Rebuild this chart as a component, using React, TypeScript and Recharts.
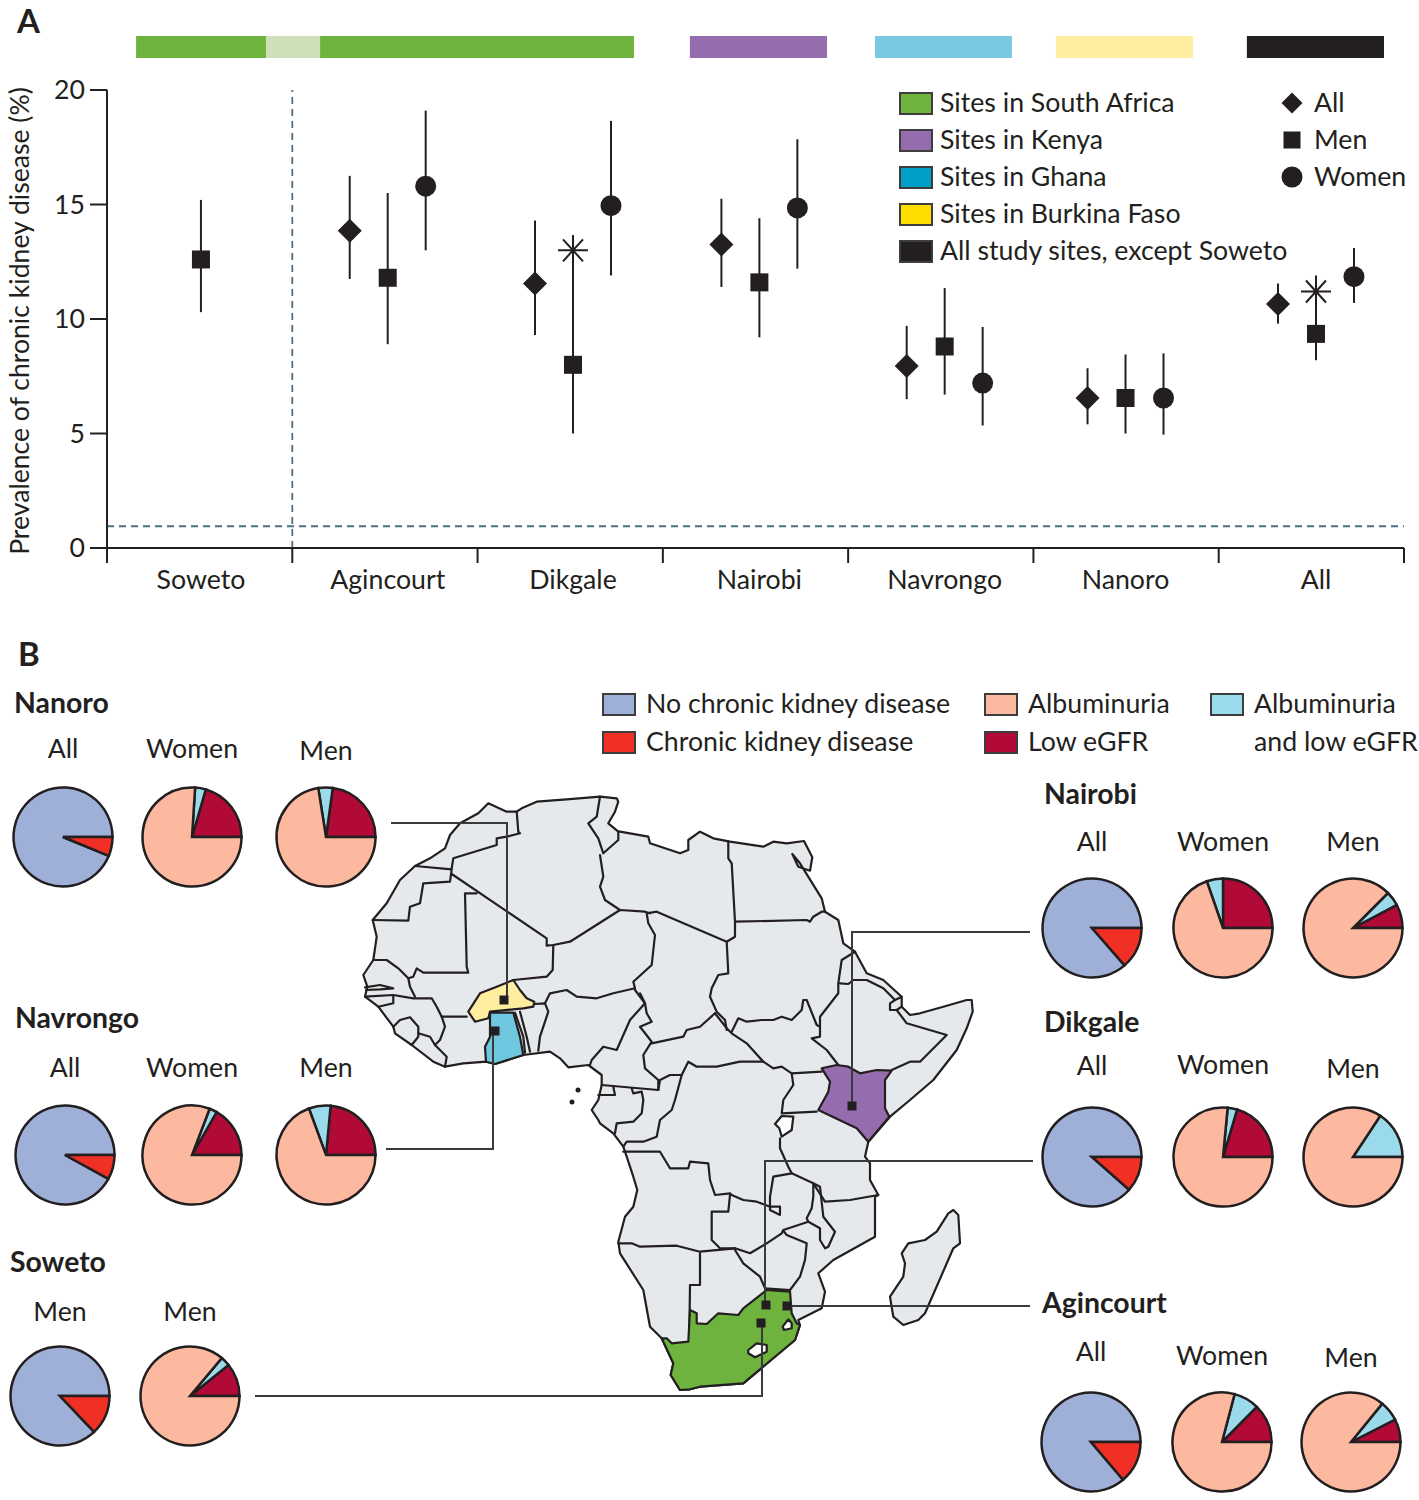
import { ScatterChart, Scatter, XAxis, YAxis, ErrorBar, ReferenceLine, ReferenceArea, PieChart, Pie, Cell, Label } from "recharts";

const INK = "#231f20";
const FONT = "Lato, sans-serif";

// Panel A values, one entry per site
const siteNames = ["Soweto", "Agincourt", "Dikgale", "Nairobi", "Navrongo", "Nanoro", "All"];
const allValues = [null, 13.85, 11.55, 13.25, 7.95, 6.55, 10.65];
const allLow = [null, 11.75, 9.3, 11.4, 6.5, 5.4, 9.8];
const allHigh = [null, 16.25, 14.3, 15.25, 9.7, 7.85, 11.55];
const menValues = [12.6, 11.8, 8.0, 11.6, 8.8, 6.55, 9.35];
const menLow = [10.3, 8.9, 5.0, 9.2, 6.7, 5.0, 8.2];
const menHigh = [15.2, 15.5, 13.65, 14.4, 11.35, 8.45, 11.9];
const womenValues = [null, 15.8, 14.95, 14.85, 7.2, 6.55, 11.85];
const womenLow = [null, 13.0, 11.9, 12.2, 5.35, 4.95, 10.7];
const womenHigh = [null, 19.1, 18.65, 17.85, 9.65, 8.5, 13.1];
const starValues = [null, null, 13.0, null, null, null, 11.2];

// Pie values (%)
const ckdLabels = ["No chronic kidney disease", "Chronic kidney disease"];
const stageLabels = ["Low eGFR", "Albuminuria and low eGFR", "Albuminuria"];
const nanoroAll = [93.8, 6.2];
const nanoroWomen = [20.5, 3.5, 76];
const nanoroMen = [22.8, 4.7, 72.5];
const navrongoAll = [92, 8];
const navrongoWomen = [16.7, 2.5, 80.8];
const navrongoMen = [23.5, 7.1, 69.4];
const sowetoAll = [87.1, 12.9];
const sowetoMen = [10.8, 3.1, 86.1];
const nairobiAll = [86.4, 13.6];
const nairobiWomen = [25, 5.3, 69.7];
const nairobiMen = [7.7, 4.8, 87.5];
const dikgaleAll = [88.5, 11.5];
const dikgaleWomen = [20.4, 3.1, 76.5];
const dikgaleMen = [0, 15.7, 84.3];
const agincourtAll = [86.2, 13.8];
const agincourtWomen = [12.6, 8.3, 79.1];
const agincourtMen = [7.5, 6.6, 85.9];

// where inside its site band each marker sits (x axis runs 0..7)
const OFFSET = { all: 0.31, men: 0.515, women: 0.72 };
const siteShift = [-0.008, 0, 0, 0.006, 0.006, -0.018, 0.01];

const toPoints = (vals: (number | null)[], off: number, low?: (number | null)[], high?: (number | null)[]) =>
  vals.flatMap((v, i) =>
    v === null ? [] : [{ x: i + off + siteShift[i], y: v, err: low && high ? [v - (low[i] as number), (high[i] as number) - v] : [0, 0] }]
  );

const allPoints = toPoints(allValues, OFFSET.all, allLow, allHigh);
const menPoints = toPoints(menValues, OFFSET.men, menLow, menHigh);
const womenPoints = toPoints(womenValues, OFFSET.women, womenLow, womenHigh);
const starPoints = toPoints(starValues, OFFSET.men);

const Diamond = ({ cx, cy, r = 12 }: any) => <path d={`M${cx - r} ${cy}L${cx} ${cy - r}L${cx + r} ${cy}L${cx} ${cy + r}Z`} fill={INK} />;
const Square = ({ cx, cy, r = 9 }: any) => <rect x={cx - r} y={cy - r} width={r * 2} height={r * 2} fill={INK} />;
const Circle = ({ cx, cy, r = 10.5 }: any) => <circle cx={cx} cy={cy} r={r} fill={INK} />;
const Star = ({ cx, cy }: any) => (
  <path d={`M${cx - 15} ${cy}H${cx + 15}M${cx} ${cy - 15}V${cy + 15}M${cx - 10} ${cy - 11}L${cx + 10} ${cy + 11}M${cx + 10} ${cy - 11}L${cx - 10} ${cy + 11}`} stroke={INK} strokeWidth={2} fill="none" />
);

// band edges get a tick mark, the band's label sits on the men's marker
const bandTicks = [0, 1, 2, 3, 4, 5, 6, 7];
const labelTicks = siteNames.map((_, i) => i + OFFSET.men + siteShift[i]);

const SiteTick = ({ x, y, payload }: any) =>
  Number.isInteger(payload.value) ? (
    <line x1={x} x2={x} y1={y} y2={y + 15} stroke={INK} strokeWidth={2} />
  ) : (
    <text x={x} y={y + 41} textAnchor="middle" fontFamily={FONT} fontSize={26.7} fill={INK}>
      {siteNames[Math.floor(payload.value)]}
    </text>
  );

const YTitle = ({ viewBox }: any) => (
  <text transform={`translate(29 ${viewBox.y + viewBox.height / 2 + 2}) rotate(-90)`} textAnchor="middle" fontFamily={FONT} fontSize={26.6} fill={INK}>
    Prevalence of chronic kidney disease (%)
  </text>
);

// colour strips over the plot, in x axis units
const strips = [
  { x1: 0.157, x2: 0.858, fill: "#6fb33f" },
  { x1: 0.858, x2: 1.15, fill: "#cde0b8" },
  { x1: 1.15, x2: 2.844, fill: "#6fb33f" },
  { x1: 3.146, x2: 3.886, fill: "#956cae" },
  { x1: 4.145, x2: 4.884, fill: "#79cae0" },
  { x1: 5.121, x2: 5.861, fill: "#ffee9f" },
  { x1: 6.152, x2: 6.892, fill: INK },
];

function PrevalencePlot() {
  return (
    <div style={{ position: "absolute", left: 0, top: 0 }}>
      <ScatterChart width={1419} height={600} margin={{ top: 90, right: 15, left: 0, bottom: 0 }}>
        <XAxis type="number" dataKey="x" domain={[0, 7]} ticks={[...bandTicks, ...labelTicks].sort((a, b) => a - b)} tick={<SiteTick />} tickLine={false} tickSize={0} tickMargin={0} height={52} interval={0} stroke={INK} strokeWidth={2} />
        <YAxis type="number" dataKey="y" domain={[0, 20]} ticks={[0, 5, 10, 15, 20]} width={107} tickSize={17} tickMargin={5} stroke={INK} strokeWidth={2} tick={{ fontFamily: FONT, fontSize: 26.7, fill: INK }} interval={0}>
          <Label content={<YTitle />} />
        </YAxis>
        {strips.map((s) => (
          <ReferenceArea key={s.x1} x1={s.x1} x2={s.x2} y1={21.4} y2={22.36} fill={s.fill} fillOpacity={1} stroke="none" ifOverflow="visible" />
        ))}
        <ReferenceLine x={1} stroke="#4c7080" strokeWidth={1.8} strokeDasharray="7 5" />
        <ReferenceLine y={0.95} stroke="#4c7080" strokeWidth={1.8} strokeDasharray="7 5" />
        <Scatter name="All" data={allPoints} shape={<Diamond />} isAnimationActive={false}>
          <ErrorBar dataKey="err" direction="y" width={0} stroke={INK} strokeWidth={2} isAnimationActive={false} />
        </Scatter>
        <Scatter name="Men" data={menPoints} shape={<Square />} isAnimationActive={false}>
          <ErrorBar dataKey="err" direction="y" width={0} stroke={INK} strokeWidth={2} isAnimationActive={false} />
        </Scatter>
        <Scatter name="Women" data={womenPoints} shape={<Circle />} isAnimationActive={false}>
          <ErrorBar dataKey="err" direction="y" width={0} stroke={INK} strokeWidth={2} isAnimationActive={false} />
        </Scatter>
        <Scatter name="Significant" data={starPoints} shape={<Star />} isAnimationActive={false} />
      </ScatterChart>
    </div>
  );
}

const T = ({ x, y, children, center, bold, size }: any) => (
  <div
    style={{
      position: "absolute", left: x, top: y - 1, transform: `translate(${center ? "-50%" : "0"}, -50%)`,
      fontFamily: FONT, fontSize: size ?? (bold ? 28.4 : 26.7), fontWeight: bold ? 700 : 400, color: INK, whiteSpace: "nowrap", lineHeight: 1.2,
    }}
  >
    {children}
  </div>
);

const Swatch = ({ x, y, fill, w = 34, h = 23 }: any) => (
  <div style={{ position: "absolute", left: x, top: y - h / 2, width: w, height: h, boxSizing: "border-box", background: fill, border: `2px solid #3d3d3d` }} />
);

const legendSites = [
  { label: "Sites in South Africa", fill: "#6fb33f", y: 103 },
  { label: "Sites in Kenya", fill: "#956cae", y: 140 },
  { label: "Sites in Ghana", fill: "#00a0c6", y: 177 },
  { label: "Sites in Burkina Faso", fill: "#ffdd00", y: 214 },
  { label: "All study sites, except Soweto", fill: INK, y: 251 },
];

// ---- map, traced in three frames, all page px after conversion ----
const frame = (ox: number, oy: number) => (s: string) =>
  s.trim().split(/\s+/).map((p) => {
    const [a, b] = p.split(",").map(Number);
    return `${(ox + a / 3).toFixed(1)} ${(oy + b / 3).toFixed(1)}`;
  });
const W = frame(350, 780);
const E = frame(600, 780);
const S = frame(600, 1100);
const closed = (...parts: string[][]) => "M" + parts.flat().join("L") + "Z";
const open = (...parts: string[][]) => "M" + parts.flat().join("L");

const outline = closed(
  W("805,155 775,130 795,95 805,65 800,55 750,50 650,58 560,65 515,85 500,95 470,95 415,70 385,100 330,130 300,165 285,205 240,235 195,258 150,300 110,370 68,420 80,470 70,540 40,585 52,620 45,650 85,680 130,740 135,760 185,795 250,845 285,860 340,850 410,845 435,852 520,825 600,815 630,835 655,862 715,855 755,885 755,915 745,960 725,990 745,1020"),
  S("0,70 40,100 70,140 80,170 100,230 112,270 100,320 75,350 55,425 60,460 130,570 150,680 185,715 220,790 212,825 240,870 270,868 300,860 430,850 585,720 600,675 595,660 665,625 675,575 655,520 700,480 825,410 825,290 835,285 810,240 810,190 795,170 805,125 870,50 930,0"),
  E("1000,900 1070,810 1100,745 1118,695 1115,660 1100,660 1030,680 960,700 930,705 905,680 905,650 850,600 800,580 765,515 730,490 715,420 675,395 665,355 600,250 577,222 595,260 630,272 637,232 612,183 560,190 520,185 490,200 390,185 340,175 300,155 265,180 265,210 240,220 150,190 145,170 60,155")
);
const madagascar = closed(S("905,460 925,430 975,420 1010,395 1045,340 1060,330 1075,345 1080,430 1060,445 975,640 955,660 910,675 880,650 870,590 910,530 915,490"));
const burkina = closed(W("355,695 390,640 440,620 490,600 510,630 530,655 553,665 550,680 520,685 420,695 415,715 375,725"));
const ghana = closed(W("420,698 490,698 510,770 520,825 435,852 408,845 405,800 420,770"));
const kenya = closed(E("665,865 690,905 685,935 655,990 770,1045 805,1085 868,1010 855,985 855,900 875,872 830,870 780,880 745,860 710,855"));
const southAfrica = closed(S("185,715 200,715 215,730 265,725 270,630 290,640 290,670 320,672 355,640 415,645 430,625 500,570 570,575 575,640 590,670 600,675 585,720 430,850 300,860 270,868 240,870 212,825 220,790"));
const lesotho = closed(S("445,750 470,730 500,735 500,755 465,772 445,760"));
const swaziland = closed(S("548,680 565,658 575,670 575,685 552,690"));
const victoria = closed(S("525,72 545,48 580,50 575,90 545,110 538,85"));

const borders = [
  // north-west
  open(W("500,95 505,155 510,160 470,170 440,175 440,195 310,235 305,265")),
  open(W("195,258 305,268 300,305 220,310 210,370 180,380 175,422 68,420")),
  open(W("305,282 590,475 590,497 610,495 660,485 810,390 885,395 900,400")),
  open(W("380,340 345,340 350,560 355,578 220,578 200,565 190,590 175,595")),
  open(W("70,540 110,540 145,565 175,595 180,620 195,650")),
  open(W("45,650 130,645 190,655 245,655 260,680 275,710 350,710")),
  open(W("45,622 90,615 130,625 90,628 48,630")),
  open(W("85,680 130,670 130,650")),
  open(W("275,710 285,740 270,780 255,795 290,830 285,860")),
  open(W("130,740 150,720 180,712 205,740 205,770 185,795")),
  open(W("205,760 240,770 255,795")),
  open(W("495,698 520,770 525,818")),
  open(W("510,695 530,770 540,815")),
  open(W("553,672 585,670 595,695 570,770 565,812")),
  open(W("490,600 590,590 608,570 610,495")),
  open(W("585,670 600,640 650,630 680,650 740,655 790,640 855,625")),
  open(W("855,625 850,605 905,555 915,465 895,430 890,400 920,395 990,425"), E("380,485 405,470 405,425")),
  open(W("810,390 765,360 750,320 760,290 750,225")),
  open(W("750,50 740,110 715,130 745,175 760,220 805,180 805,155")),
  // west-central
  open(W("855,630 885,670 840,720 800,810 760,800 725,840 720,855")),
  open(W("870,640 885,670 890,700 905,725 870,740 905,785 880,825 885,865 925,900 925,930 755,915")),
  open(W("745,945 795,945 790,920")),
  open(E("155,790 250,770 260,750 300,740 345,700")),
  open(W("925,930 930,900 960,885 990,885"), E("245,885 265,845 290,860 350,860 420,845 490,845 520,865 545,860 575,880 665,875")),
  // north-east
  open(E("380,485 385,580 355,585 335,625 330,650 350,695 375,720 380,750")),
  open(E("345,700 380,745 395,760 440,790 490,845")),
  open(E("395,755 415,715 440,725 485,720 520,720 545,710 575,720 605,690 610,660 620,660 650,735 660,740 660,770 635,775 680,810 715,855")),
  open(E("385,185 385,235 395,250 405,425 620,420 630,425 640,410 665,395 675,395")),
  open(E("765,515 725,540 715,610 715,640 660,710 660,740")),
  open(E("720,610 745,612 760,600 800,600 850,625 885,660 905,650")),
  open(E("885,660 870,670 870,690 890,690 905,680")),
  open(E("890,690 920,730 1040,765 960,845 930,845 875,870")),
  open(E("575,880 580,915 550,960 545,1000 650,995")),
  // central and south
  open(E("245,885 225,960 215,990 180,1020 170,1070 130,1085 80,1085 70,1100")),
  open(E("95,925 100,940 125,935 130,960 125,1000 100,1025 50,1030 45,1060")),
  open(S("70,155 180,155 210,205 265,205 270,185 325,190 330,240 345,285 390,280 395,285 430,300 470,305 510,320 540,320 540,345 510,330 510,290 520,230 575,220")),
  open(S("540,115 540,145 565,200 575,220 640,250 675,305 750,300 835,285")),
  open(S("55,430 95,430 120,440 230,437 300,455 405,445 450,460 500,430 545,400 550,390 625,365")),
  open(S("390,285 385,335 335,335 335,420 360,445 405,445")),
  open(S("300,460 300,555 270,555 268,715")),
  open(S("405,450 430,490 480,530 495,565")),
  open(S("495,565 570,570 600,530 615,480 620,430 560,405 550,392")),
  open(S("625,365 620,355 635,325 640,290 640,250 660,260 670,350 705,395 685,440 675,445 660,420 660,385 625,365")),
];

// leader lines from each pie group to its site
const leaders = [
  "M391 823H507V1000",
  "M386 1149H493V1031",
  "M1030 932H852V1106",
  "M1033 1161H765V1305",
  "M1030 1306H787",
  "M255 1396H762V1323",
];
const siteDots = [[504, 1000], [495, 1031], [852, 1106], [766, 1305], [787, 1306], [761, 1323]];

function AfricaMap() {
  const line = { stroke: INK, strokeWidth: 2.2, strokeLinejoin: "round" as const, strokeLinecap: "round" as const };
  return (
    <svg width={1419} height={1500} style={{ position: "absolute", left: 0, top: 0 }}>
      <path d={outline} fill="#e6e9ec" {...line} />
      <path d={madagascar} fill="#e6e9ec" {...line} />
      {borders.map((d, i) => <path key={i} d={d} fill="none" {...line} />)}
      <path d={victoria} fill="#ffffff" {...line} />
      <path d={burkina} fill="#ffee9f" {...line} />
      <path d={ghana} fill="#6fc8df" {...line} />
      <path d={kenya} fill="#956cae" {...line} />
      <path d={southAfrica} fill="#6fb33f" {...line} />
      <path d={lesotho} fill="#ffffff" {...line} />
      <path d={swaziland} fill="#ffffff" {...line} />
      <circle cx={578} cy={1090} r={2.5} fill={INK} />
      <circle cx={572} cy={1102} r={2.5} fill={INK} />
      {leaders.map((d) => <path key={d} d={d} fill="none" stroke="#3a3a3a" strokeWidth={2} />)}
      {siteDots.map(([x, y]) => <rect key={`${x}-${y}`} x={x - 4.5} y={y - 4.5} width={9} height={9} fill={INK} />)}
    </svg>
  );
}

const ckdColors = ["#9fb0d8", "#f03024"];
const stageColors = ["#b10a37", "#9adaea", "#fdb9a0"];

const SitePie = ({ cx, cy, values }: { cx: number; cy: number; values: number[] }) => {
  const isCkd = values.length === 2;
  const names = isCkd ? ckdLabels : stageLabels;
  const colors = isCkd ? ckdColors : stageColors;
  const data = values.map((value, i) => ({ name: names[i], value }));
  return (
    <div style={{ position: "absolute", left: cx - 54, top: cy - 54 }}>
      <PieChart width={108} height={108} margin={{ top: 0, right: 0, bottom: 0, left: 0 }}>
        <Pie data={data} dataKey="value" nameKey="name" cx={54} cy={54} innerRadius={0} outerRadius={49.5} startAngle={0} endAngle={360} stroke={INK} strokeWidth={2.5} isAnimationActive={false}>
          {data.map((d, i) => <Cell key={d.name} fill={colors[i]} />)}
        </Pie>
      </PieChart>
    </div>
  );
};

const pieGroups = [
  {
    name: "Nanoro", x: 14, y: 703,
    pies: [
      { label: "All", values: nanoroAll, cx: 63, cy: 837, ly: 749 },
      { label: "Women", values: nanoroWomen, cx: 192, cy: 837, ly: 749 },
      { label: "Men", values: nanoroMen, cx: 326, cy: 837, ly: 751 },
    ],
  },
  {
    name: "Navrongo", x: 15, y: 1018,
    pies: [
      { label: "All", values: navrongoAll, cx: 65, cy: 1155, ly: 1068 },
      { label: "Women", values: navrongoWomen, cx: 192, cy: 1155, ly: 1068 },
      { label: "Men", values: navrongoMen, cx: 326, cy: 1155, ly: 1068 },
    ],
  },
  {
    name: "Soweto", x: 10, y: 1262,
    pies: [
      { label: "Men", values: sowetoAll, cx: 60, cy: 1396, ly: 1312 },
      { label: "Men", values: sowetoMen, cx: 190, cy: 1396, ly: 1312 },
    ],
  },
  {
    name: "Nairobi", x: 1044, y: 794,
    pies: [
      { label: "All", values: nairobiAll, cx: 1092, cy: 928, ly: 842 },
      { label: "Women", values: nairobiWomen, cx: 1223, cy: 928, ly: 842 },
      { label: "Men", values: nairobiMen, cx: 1353, cy: 928, ly: 842 },
    ],
  },
  {
    name: "Dikgale", x: 1044, y: 1022,
    pies: [
      { label: "All", values: dikgaleAll, cx: 1092, cy: 1157, ly: 1066 },
      { label: "Women", values: dikgaleWomen, cx: 1223, cy: 1157, ly: 1065 },
      { label: "Men", values: dikgaleMen, cx: 1353, cy: 1157, ly: 1069 },
    ],
  },
  {
    name: "Agincourt", x: 1042, y: 1303,
    pies: [
      { label: "All", values: agincourtAll, cx: 1091, cy: 1442, ly: 1352 },
      { label: "Women", values: agincourtWomen, cx: 1222, cy: 1442, ly: 1356 },
      { label: "Men", values: agincourtMen, cx: 1351, cy: 1442, ly: 1358 },
    ],
  },
];

const legendB = [
  { x: 602, y: 704, fill: "#9fb0d8", label: "No chronic kidney disease" },
  { x: 602, y: 742, fill: "#f03024", label: "Chronic kidney disease" },
  { x: 984, y: 704, fill: "#fdb9a0", label: "Albuminuria" },
  { x: 984, y: 742, fill: "#b10a37", label: "Low eGFR" },
  { x: 1210, y: 704, fill: "#9adaea", label: "Albuminuria" },
];

export default function App() {
  return (
    <div style={{ position: "absolute", left: 0, top: 0, width: 1419, height: 1500, background: "#fff", overflow: "hidden" }}>
      <PrevalencePlot />
      <AfricaMap />
      <T x={17} y={22} bold size={33}>A</T>
      <T x={18} y={655} bold size={33}>B</T>

      {/* panel A legends */}
      {legendSites.map((l) => (
        <div key={l.label}>
          <Swatch x={899} y={l.y} fill={l.fill} />
          <T x={940} y={l.y}>{l.label}</T>
        </div>
      ))}
      <svg width={40} height={110} style={{ position: "absolute", left: 1272, top: 85 }}>
        <Diamond cx={20} cy={18} r={10.5} />
        <Square cx={20} cy={55} r={8.5} />
        <Circle cx={20} cy={92} r={10.5} />
      </svg>
      <T x={1314} y={103}>All</T>
      <T x={1314} y={140}>Men</T>
      <T x={1314} y={177}>Women</T>

      {/* panel B legend */}
      {legendB.map((l) => (
        <div key={`${l.x}-${l.y}`}>
          <Swatch x={l.x} y={l.y} fill={l.fill} />
          <T x={l.x + 44} y={l.y}>{l.label}</T>
        </div>
      ))}
      <T x={1254} y={742}>and low eGFR</T>

      {pieGroups.map((g) => (
        <div key={g.name}>
          <T x={g.x} y={g.y} bold>{g.name}</T>
          {g.pies.map((p) => (
            <div key={`${g.name}-${p.cx}`}>
              <T x={p.cx} y={p.ly} center>{p.label}</T>
              <SitePie cx={p.cx} cy={p.cy} values={p.values} />
            </div>
          ))}
        </div>
      ))}
    </div>
  );
}
